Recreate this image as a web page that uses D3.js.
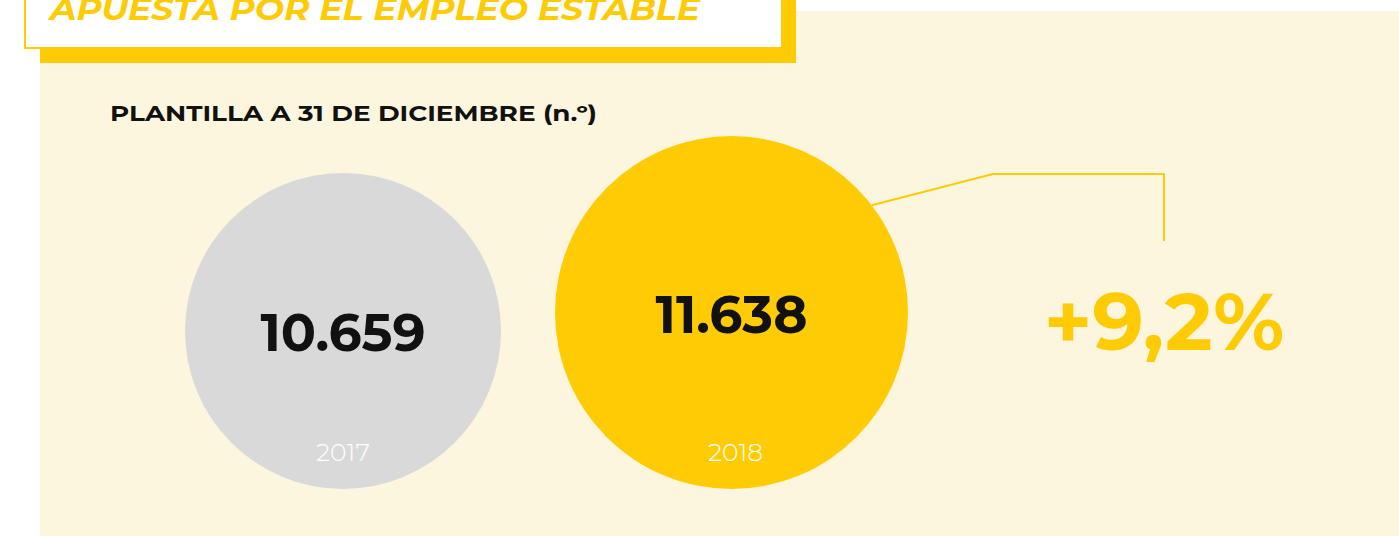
<!DOCTYPE html>
<html>
<head>
<meta charset="utf-8">
<script src="https://cdn.jsdelivr.net/npm/d3@7"></script>
<style>
  html, body { margin: 0; padding: 0; background: #ffffff; }
  svg { display: block; }
</style>
</head>
<body>
<svg id="chart"></svg>
<script>
// Data
var years = ["2017", "2018"];
var values = [10659, 11638];
var title = "APUESTA POR EL EMPLEO ESTABLE";
var subtitle = "PLANTILLA A 31 DE DICIEMBRE (n.º)";

var WIDTH = 1399, HEIGHT = 536;
var YELLOW = "#FECB05", GREY = "#D9D9D9", CREAM = "#FDF6DF";
var FONT = "Montserrat, 'Open Sans', Lato, sans-serif";

var es = d3.formatLocale({decimal: ",", thousands: ".", grouping: [3], currency: ["", " €"]});
var fmtValue = es.format(",");
var fmtChange = es.format("+.1%");

var svg = d3.select("#chart")
    .attr("width", WIDTH)
    .attr("height", HEIGHT);

// background panel
svg.append("rect")
    .attr("x", 40).attr("y", 11)
    .attr("width", WIDTH - 40).attr("height", HEIGHT - 11)
    .attr("fill", CREAM);

// title box with offset shadow
svg.append("rect")
    .attr("x", 40).attr("y", -20)
    .attr("width", 756).attr("height", 83)
    .attr("fill", YELLOW);
svg.append("rect")
    .attr("x", 25).attr("y", -30)
    .attr("width", 757).attr("height", 78)
    .attr("fill", "#ffffff")
    .attr("stroke", YELLOW)
    .attr("stroke-width", 2);
svg.append("text")
    .attr("x", 50).attr("y", 20)
    .attr("font-family", FONT)
    .attr("font-style", "italic")
    .attr("font-weight", 700)
    .attr("font-size", 31)
    .attr("fill", YELLOW)
    .attr("textLength", 650)
    .attr("lengthAdjust", "spacingAndGlyphs")
    .text(title);

// subtitle
svg.append("text")
    .attr("x", 110).attr("y", 121)
    .attr("font-family", FONT)
    .attr("font-weight", 700)
    .attr("font-size", 21)
    .attr("fill", "#111111")
    .attr("textLength", 487)
    .attr("lengthAdjust", "spacingAndGlyphs")
    .text(subtitle);

// scales
var x = d3.scalePoint()
    .domain(years)
    .range([343, 731.5]);

var r = d3.scaleLinear()
    .domain(d3.extent(values))
    .range([158, 176.5]);

var baseY = 489;
var colors = d3.scaleOrdinal().domain(years).range([GREY, YELLOW]);

var items = years.map(function(y, i) { return {year: y, value: values[i]}; });

var g = svg.selectAll("g.bubble")
    .data(items)
    .enter().append("g")
    .attr("class", "bubble")
    .attr("transform", function(d) {
        return "translate(" + x(d.year) + "," + (baseY - r(d.value)) + ")";
    });

g.append("circle")
    .attr("r", function(d) { return r(d.value); })
    .attr("fill", function(d) { return colors(d.year); });

g.append("text")
    .attr("text-anchor", "middle")
    .attr("y", 20)
    .attr("font-family", FONT)
    .attr("font-weight", 700)
    .attr("font-size", 52)
    .attr("fill", "#111111")
    .text(function(d) { return fmtValue(d.value); });

g.append("text")
    .attr("text-anchor", "middle")
    .attr("x", function(d, i) { return i ? 4 : 0; })
    .attr("y", function(d) { return baseY - 28 - (baseY - r(d.value)); })
    .attr("font-family", FONT)
    .attr("font-weight", 300)
    .attr("font-size", 25)
    .attr("fill", "#ffffff")
    .text(function(d) { return d.year; });

// change callout: leader from the edge of the last bubble
var last = items[items.length - 1];
var lastR = r(last.value);
var cx = x(last.year), cy = baseY - lastR;
var ang = -0.653; // radians, up-right of centre
var start = [cx + lastR * Math.cos(ang), cy + lastR * Math.sin(ang)];
var labelX = 1164;

svg.append("path")
    .attr("d", d3.line()([start, [993, 174], [labelX, 174], [labelX, 241]]))
    .attr("fill", "none")
    .attr("stroke", YELLOW)
    .attr("stroke-width", 2);

svg.append("text")
    .attr("x", labelX).attr("y", 350)
    .attr("text-anchor", "middle")
    .attr("font-family", FONT)
    .attr("font-weight", 700)
    .attr("font-size", 81)
    .attr("fill", YELLOW)
    .text(fmtChange(values[1] / values[0] - 1));
</script>
</body>
</html>
